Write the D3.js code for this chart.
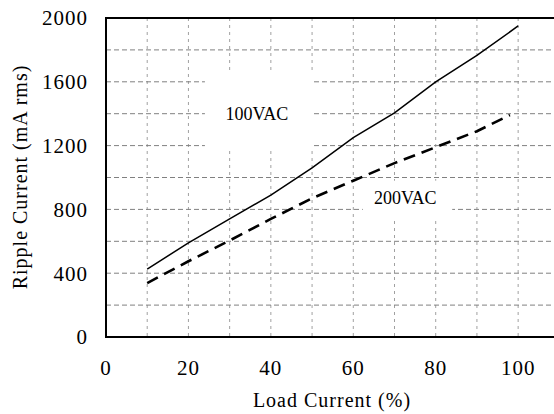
<!DOCTYPE html>
<html><head><meta charset="utf-8">
<script src="https://cdn.jsdelivr.net/npm/d3@7"></script>
<style>html,body{margin:0;padding:0;background:#fff;}</style>
</head><body>
<svg id="chart" width="554" height="414"></svg>
<script>
const loadPct = [10, 20, 30, 40, 50, 60, 70, 80, 90, 100];
const ripple100 = [426, 590, 740, 890, 1060, 1250, 1405, 1600, 1765, 1950];
const loadPct200 = [10, 20, 30, 40, 50, 60, 70, 80, 90, 98];
const ripple200 = [338, 475, 605, 740, 870, 980, 1090, 1190, 1290, 1392];
const xTicks = [0, 20, 40, 60, 80, 100];
const yTicks = [0, 400, 800, 1200, 1600, 2000];
const xGrid = [10, 20, 30, 40, 50, 60, 70, 80, 90, 100];
const yGrid = [200, 400, 600, 800, 1000, 1200, 1400, 1600, 1800];
const seriesLabels = ["100VAC", "200VAC"];

const svg = d3.select("#chart");
const L = 106, T = 18, B = 337, R = 554;
const x = d3.scaleLinear().domain([0, 108.7]).range([L, R]);
const y = d3.scaleLinear().domain([0, 2000]).range([B, T]);
const font = "Liberation Serif, Times New Roman, serif";

// grid
svg.append("g").selectAll("line").data(xGrid).join("line")
  .attr("x1", d => x(d)).attr("x2", d => x(d)).attr("y1", T).attr("y2", B)
  .attr("stroke", "#a0a0a0").attr("stroke-width", 1).attr("stroke-dasharray", "3,4");
svg.append("g").selectAll("line").data(yGrid).join("line")
  .attr("x1", L).attr("x2", R).attr("y1", d => y(d)).attr("y2", d => y(d))
  .attr("stroke", "#808080").attr("stroke-width", 1).attr("stroke-dasharray", "5,3");

// label backgrounds
svg.append("rect").attr("x", x(24)).attr("y", y(1650)).attr("width", x(50.4) - x(24)).attr("height", y(1170) - y(1650)).attr("fill", "#fff");
svg.append("rect").attr("x", x(62.3)).attr("y", y(980)).attr("width", x(84) - x(62.3)).attr("height", y(740) - y(980)).attr("fill", "#fff");

// frame
svg.append("line").attr("x1", L).attr("x2", R).attr("y1", T).attr("y2", T).attr("stroke", "#000").attr("stroke-width", 2);
svg.append("line").attr("x1", L).attr("x2", R).attr("y1", B).attr("y2", B).attr("stroke", "#000").attr("stroke-width", 2);
svg.append("line").attr("x1", L).attr("x2", L).attr("y1", T - 1).attr("y2", B + 1).attr("stroke", "#000").attr("stroke-width", 2);

// lines
const line = d3.line().x(d => x(d[0])).y(d => y(d[1]));
svg.append("path").datum(loadPct.map((d, i) => [d, ripple100[i]]))
  .attr("d", line).attr("fill", "none").attr("stroke", "#000").attr("stroke-width", 1.5);
svg.append("path").datum(loadPct200.map((d, i) => [d, ripple200[i]]))
  .attr("d", line).attr("fill", "none").attr("stroke", "#000").attr("stroke-width", 2.6)
  .attr("stroke-dasharray", "12,7");

// series labels
svg.append("text").attr("x", x(29)).attr("y", y(1400)).attr("dy", "0.35em")
  .attr("font-family", font).attr("font-size", 18).text(seriesLabels[0]);
svg.append("text").attr("x", x(65)).attr("y", y(875)).attr("dy", "0.35em")
  .attr("font-family", font).attr("font-size", 18).text(seriesLabels[1]);

// tick labels
svg.append("g").selectAll("text").data(yTicks).join("text")
  .attr("x", 88).attr("y", d => y(d)).attr("dy", "0.35em").attr("text-anchor", "end")
  .attr("font-family", font).attr("font-size", 21).attr("letter-spacing", 1).text(d => d);
svg.append("g").selectAll("text").data(xTicks).join("text")
  .attr("x", d => x(d)).attr("y", 368).attr("dy", "0.35em").attr("text-anchor", "middle")
  .attr("font-family", font).attr("font-size", 21).attr("letter-spacing", 1).text(d => d);

// axis titles
svg.append("text").attr("x", 332).attr("y", 400).attr("dy", "0.35em").attr("text-anchor", "middle")
  .attr("font-family", font).attr("font-size", 20).attr("letter-spacing", 1).text("Load Current (%)");
svg.append("text").attr("transform", "translate(20,177) rotate(-90)").attr("dy", "0.35em").attr("text-anchor", "middle")
  .attr("font-family", font).attr("font-size", 20).attr("letter-spacing", 1).text("Ripple Current (mA rms)");
</script>
</body></html>
